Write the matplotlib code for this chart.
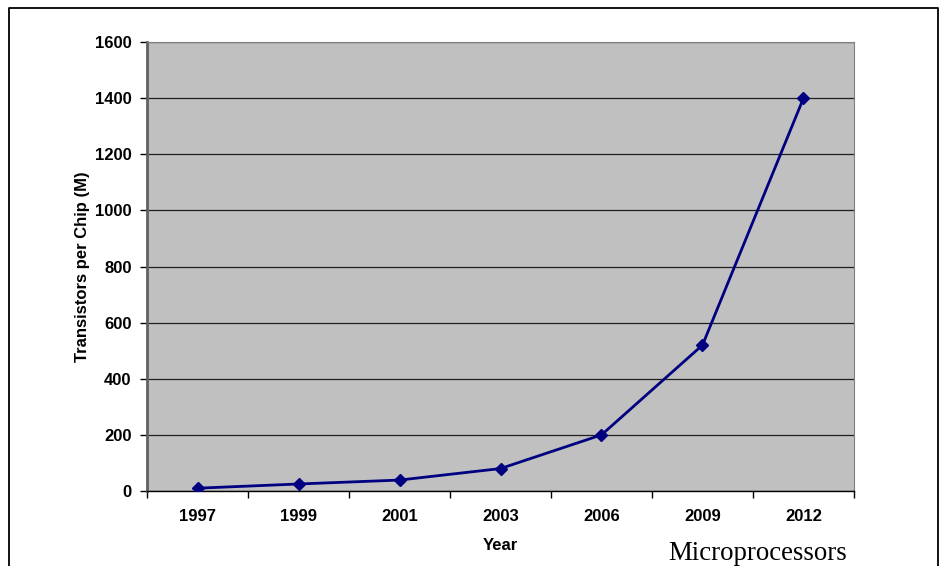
import matplotlib
matplotlib.use('Agg')
import matplotlib.pyplot as plt
from matplotlib.lines import Line2D

# data: transistors per chip (millions)
years = ['1997', '1999', '2001', '2003', '2006', '2009', '2012']
transistors = [10, 25, 39, 80, 200, 520, 1400]
y_ticks = [0, 200, 400, 600, 800, 1000, 1200, 1400, 1600]

plt.rcParams['font.family'] = ['Liberation Sans', 'DejaVu Sans']

fig = plt.figure(figsize=(9.4, 5.66), dpi=100)
ax = fig.add_axes([0.1564, 0.1325, 0.7521, 0.7933])
ax.set_facecolor('#C0C0C0')

x = list(range(len(years)))
ax.plot(x, transistors, color='#000080', linewidth=2, marker='D', markersize=6.5,
        zorder=3)

ax.set_xlim(-0.5, len(years) - 0.5)
ax.set_ylim(0, 1600)
ax.set_yticks(y_ticks)
ax.set_yticklabels([str(v) for v in y_ticks], fontsize=12, fontweight='bold')
ax.set_xticks([i - 0.5 for i in range(len(years) + 1)])
ax.set_xticklabels([])
ax.set_xticks(x, minor=True)
ax.set_xticklabels(years, minor=True, fontsize=12, fontweight='bold')
ax.tick_params(axis='x', which='minor', length=0, pad=13)
ax.tick_params(axis='x', which='major', length=5, width=1, color='black', direction='out')
ax.tick_params(axis='y', length=5, width=1, color='black', direction='out', pad=6)

ax.grid(axis='y', color='#202020', linewidth=0.9)
ax.set_axisbelow(True)

for side in ['top', 'right']:
    ax.spines[side].set_color('#808080')
    ax.spines[side].set_linewidth(0.8)
ax.spines['left'].set_color('#606060')
ax.spines['left'].set_linewidth(2)
ax.spines['bottom'].set_color('black')
ax.spines['bottom'].set_linewidth(1)

ax.set_xlabel('Year', fontsize=12, fontweight='bold', labelpad=10)
ax.set_ylabel('Transistors per Chip (M)', fontsize=12, fontweight='bold', labelpad=3.5)

# outer frame (open at the bottom)
fx0, fx1 = 9 / 940, 938 / 940
fy1 = 1 - 8 / 566
fig.add_artist(Line2D([fx0, fx0, fx1, fx1], [0, fy1, fy1, 0], color='black', linewidth=1.3))

fig.text(0.711, 1 - 560 / 566, 'Microprocessors', fontsize=19.3, va='baseline',
         family=['Liberation Serif', 'DejaVu Serif'], color='black')

fig.savefig('out.png', dpi=100)
